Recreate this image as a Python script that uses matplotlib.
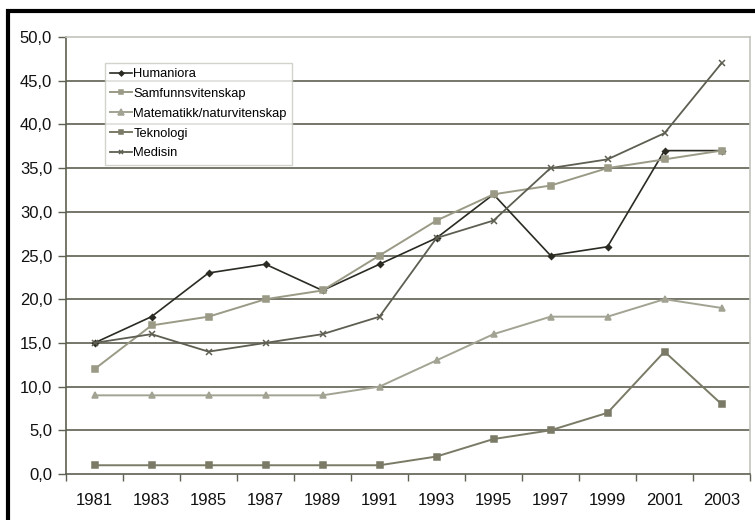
import matplotlib
matplotlib.use("Agg")
import matplotlib.pyplot as plt
from matplotlib.patches import Rectangle
from matplotlib.ticker import FuncFormatter, FixedLocator

years = ["1981", "1983", "1985", "1987", "1989", "1991",
         "1993", "1995", "1997", "1999", "2001", "2003"]
humaniora = [15, 18, 23, 24, 21, 24, 27, 32, 25, 26, 37, 37]
samfunn = [12, 17, 18, 20, 21, 25, 29, 32, 33, 35, 36, 37]
matnat = [9, 9, 9, 9, 9, 10, 13, 16, 18, 18, 20, 19]
teknologi = [1, 1, 1, 1, 1, 1, 2, 4, 5, 7, 14, 8]
medisin = [15, 16, 14, 15, 16, 18, 27, 29, 35, 36, 39, 47]

plt.rcParams["font.family"] = ["Liberation Sans", "DejaVu Sans"]

fig = plt.figure(figsize=(7.55, 5.2), dpi=100)
ax = fig.add_axes([66 / 755, 1 - 474 / 520, (750 - 66) / 755, (474 - 37) / 520])

# thick frame round the whole figure
fig.patches.append(Rectangle((8 / 755, -0.1), 1.2, 1 - 11 / 520 + 0.1, transform=fig.transFigure,
                             fill=False, ec="black", lw=3.0, zorder=10))

x = list(range(len(years)))
series = [
    ("Humaniora", humaniora, "#2b2b24", "D", 3.0, 1.2),
    ("Samfunnsvitenskap", samfunn, "#9a9a86", "s", 4.3, 1.4),
    ("Matematikk/naturvitenskap", matnat, "#a3a393", "^", 4.6, 1.4),
    ("Teknologi", teknologi, "#7a7a66", "s", 3.8, 1.4),
    ("Medisin", medisin, "#5e5e52", "x", 4.2, 1.3),
]
for name, vals, col, mk, ms, lw in series:
    ax.plot(x, vals, color=col, marker=mk, ms=ms, lw=lw, mew=1.1, label=name, zorder=3)

ax.set_xlim(-0.5, len(years) - 0.5)
ax.set_ylim(0, 50)
ax.set_yticks([0, 5, 10, 15, 20, 25, 30, 35, 40, 45, 50])
ax.yaxis.set_major_formatter(FuncFormatter(lambda v, p: f"{v:.1f}".replace(".", ",")))
for v in range(5, 50, 5):
    ax.axhline(v, color="#5f5f52", lw=1.2, zorder=1)

# year labels centred in each slot, ticks on the slot boundaries
ax.set_xticks(x)
ax.set_xticklabels(years)
ax.xaxis.set_minor_locator(FixedLocator([i - 0.5 for i in range(len(years) + 1)]))
ax.tick_params(axis="x", which="major", length=0, pad=14, labelsize=12, colors="#111111")
ax.tick_params(axis="x", which="minor", length=5, color="#5f5f52", width=1)
ax.tick_params(axis="y", length=6, color="#5f5f52", width=1, labelsize=12, colors="#111111", pad=4)

for s in ("left", "bottom"):
    ax.spines[s].set_color("#5f5f52")
    ax.spines[s].set_linewidth(1.2)
for s in ("right", "top"):
    ax.spines[s].set_color("#c4c4bc")
    ax.spines[s].set_linewidth(1.2)

leg = ax.legend(loc="upper left", bbox_to_anchor=(0.057, 0.9405), fontsize=9.3,
                frameon=True, fancybox=False, handlelength=1.7, handletextpad=0.1,
                borderpad=0.4, labelspacing=0.6, borderaxespad=0, markerscale=0.8)
leg.get_frame().set_edgecolor("#c8c8c0")
leg.get_frame().set_linewidth(1.0)
leg.set_zorder(5)

fig.savefig("out.png", dpi=100)
